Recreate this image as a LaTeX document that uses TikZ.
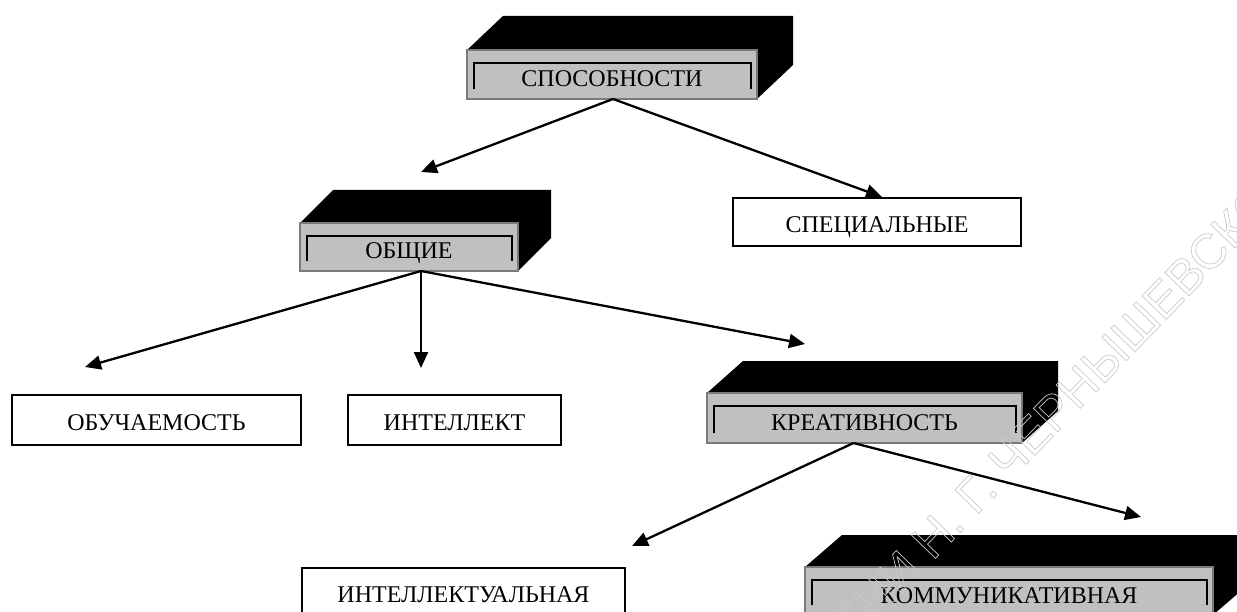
\documentclass[tikz,border=0pt]{standalone}
\usepackage{fontspec}
\setmainfont{Liberation Serif}
\newfontfamily\wmfont{Liberation Sans}
\usetikzlibrary{arrows.meta}
\definecolor{faceg}{HTML}{C0C0C0}
\definecolor{edgeg}{HTML}{7A7A7A}
\definecolor{wmg}{HTML}{CACACA}
\newcommand\outlined[1]{\special{pdf:literal direct 1 Tr 0.7 w}#1\special{pdf:literal direct 0 Tr}}
\tikzset{
  lbl/.style={font=\fontsize{24}{28}\selectfont, text height=22pt, text depth=1pt},
  plainbox/.style={lbl, draw=black, line width=2pt, fill=white, inner sep=0pt, outer sep=0pt},
  face/.style={lbl, text height=25pt, draw=edgeg, line width=2pt, fill=faceg, inner sep=0pt, outer sep=0pt},
  link/.style={line width=2.3pt, -{Triangle[length=16pt,width=14pt]}},
  frameline/.style={line width=2pt, draw=black},
}
% #1 node name, #2 dx, #3 dy (depth of the block)
\newcommand\solidbox[3]{%
  \fill[black] (#1.north west) -- ([shift={(#2,#3)}]#1.north west)
    -- ([shift={(#2,#3)}]#1.north east) -- ([shift={(#2,#3)}]#1.south east)
    -- (#1.south east) -- (#1.north east) -- cycle;
  \draw[edgeg, line width=2pt] (#1.north west) rectangle (#1.south east);
  \draw[frameline] ([shift={(7,-10)}]#1.south west) -- ([shift={(7,13)}]#1.north west)
    -- ([shift={(-6,13)}]#1.north east) -- ([shift={(-6,-10)}]#1.south east);
}
\begin{document}
\begin{tikzpicture}[x=1pt,y=-1pt]
\useasboundingbox (0,0) rectangle (1237,612);
\clip (0,0) rectangle (1237,612);

% blocks with depth
\node[face, minimum width=290pt, minimum height=49pt] (sp) at (612,74.5) {СПОСОБНОСТИ};
\solidbox{sp}{36}{-34}
\node[face, minimum width=218pt, minimum height=48pt] (ob) at (409,247) {ОБЩИЕ};
\solidbox{ob}{33}{-33}
\node[face, minimum width=315pt, minimum height=50pt] (kr) at (864.5,418) {КРЕАТИВНОСТЬ};
\solidbox{kr}{36}{-32}
\node[face, minimum width=408pt, minimum height=48pt] (km) at (1009,591) {КОММУНИКАТИВНАЯ};
\solidbox{km}{37}{-32}

% plain boxes
\node[plainbox, minimum width=288pt, minimum height=48pt] (spec) at (877,222) {СПЕЦИАЛЬНЫЕ};
\node[plainbox, minimum width=289pt, minimum height=50pt] (obu) at (156.5,420) {ОБУЧАЕМОСТЬ};
\node[plainbox, minimum width=213pt, minimum height=50pt] (intl) at (454.5,420) {ИНТЕЛЛЕКТ};
\node[plainbox, minimum width=323pt, minimum height=48pt] (intel) at (463.5,592) {ИНТЕЛЛЕКТУАЛЬНАЯ};

% arrow tips
\coordinate (tob) at (421,172);
\coordinate (tspec) at (882,197);
\coordinate (tobu) at (85,367);
\coordinate (tintl) at (421,368);
\coordinate (tkr) at (805,344);
\coordinate (tintel) at (632,546);
\coordinate (tkm) at (1141,517);

\draw[link] ([xshift=1pt]sp.south) -- (tob);
\draw[link] ([xshift=1pt]sp.south) -- (tspec);
\draw[link] ([xshift=12pt]ob.south) -- (tobu);
\draw[link] ([xshift=12pt]ob.south) -- (tintl);
\draw[link] ([xshift=12pt]ob.south) -- (tkr);
\draw[link] ([xshift=-11pt]kr.south) -- (tintel);
\draw[link] ([xshift=-11pt]kr.south) -- (tkm);

% watermark
\node[font=\wmfont\fontsize{49}{53}\selectfont, text=wmg, inner sep=0pt,
      text height=35pt, text depth=0pt, anchor=west, rotate=46] (wm) at (786,688)
      {\outlined{ИМЕНИ Н. Г. ЧЕРНЫШЕВСКОГО}};
\end{tikzpicture}
\end{document}
